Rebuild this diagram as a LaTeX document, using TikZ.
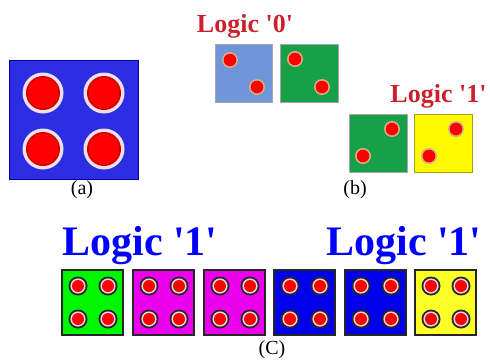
\documentclass[tikz,border=0pt]{standalone}
\usepackage{fontspec}
\setmainfont{Liberation Serif}
\definecolor{bigblue}{RGB}{45,45,228}
\definecolor{lblue}{RGB}{112,150,218}
\definecolor{bgreen}{RGB}{24,160,72}
\definecolor{byellow}{RGB}{255,250,0}
\definecolor{lred}{RGB}{205,32,45}
\definecolor{cgreen}{RGB}{0,245,0}
\definecolor{cmag}{RGB}{235,0,235}
\definecolor{cblue}{RGB}{0,0,235}
\definecolor{cyellow}{RGB}{255,255,40}
\definecolor{ring}{RGB}{235,215,225}
\definecolor{tan}{RGB}{215,175,130}
\tikzset{
  redlab/.style={anchor=base,text=lred,font=\fontsize{26}{30}\selectfont\bfseries,inner sep=0pt},
  bluelab/.style={anchor=base,text=blue,font=\fontsize{42}{46}\selectfont\bfseries,inner sep=0pt},
  caplab/.style={text=black,font=\fontsize{20}{24}\selectfont,inner sep=0pt},
  bsq/.style={draw=gray!70,line width=0.8pt},
  csq/.style={draw=black!85,line width=1.8pt}
}
\newcommand{\bdot}[2]{%
  \fill[tan] (#1,#2) circle (8);
  \fill[red] (#1,#2) circle (6.3);}
\newcommand{\cdotmark}[2]{%
  \fill[black!85] (#1,#2) circle (9.5);
  \fill[ring] (#1,#2) circle (7.6);
  \fill[red] (#1,#2) circle (6);}
\begin{document}
\begin{tikzpicture}[x=1pt,y=-1pt]
\useasboundingbox (0,0) rectangle (490,360);
% (a)
\fill[bigblue] (9,60) rectangle (138,179);
\draw[blue!60!black,line width=0.6pt] (9,60) rectangle (138,179);
\foreach \x/\y in {43/93,104/93,43/149,104/149}{
  \fill[ring!80!white] (\x,\y) circle (20.5);
  \fill[red!80!black] (\x,\y) circle (17);
  \fill[red] (\x,\y) circle (15.5);
}
\node[caplab] (la) at (82,190) {(a)};
% (b)
\node[redlab] (l0) at (245,32) {Logic \textquotesingle0\textquotesingle};
\node[redlab] (l1b) at (438.5,102) {Logic \textquotesingle1\textquotesingle};
\fill[lblue] (215,44) rectangle (272,102);
\draw[bsq] (215,44) rectangle (272,102);
\fill[bgreen] (280,44) rectangle (338,102);
\draw[bsq] (280,44) rectangle (338,102);
\fill[bgreen] (349,114) rectangle (407,172);
\draw[bsq] (349,114) rectangle (407,172);
\fill[byellow] (414,114) rectangle (472,172);
\draw[bsq,draw=olive!80] (414,114) rectangle (472,172);
\bdot{230}{60}\bdot{257}{87}
\bdot{295}{59}\bdot{322}{87}
\bdot{392}{129}\bdot{363}{156}
\bdot{456}{129}\bdot{429}{156}
\node[caplab] (lb) at (355,190) {(b)};
% (C)
\node[bluelab] (l1c) at (140,255) {Logic \textquotesingle1\textquotesingle};
\node[bluelab] (l1d) at (404,255) {Logic \textquotesingle1\textquotesingle};
\foreach \x/\c in {62/cgreen,133/cmag,204/cmag,274/cblue,345/cblue,415/cyellow}{
  \fill[\c] (\x,270) rectangle ++(61,65);
  \draw[csq] (\x,270) rectangle ++(61,65);
  \cdotmark{\x+16}{286}\cdotmark{\x+46}{286}
  \cdotmark{\x+16}{319}\cdotmark{\x+46}{319}
}
\node[caplab] (lc) at (272,350) {(C)};
\end{tikzpicture}
\end{document}
